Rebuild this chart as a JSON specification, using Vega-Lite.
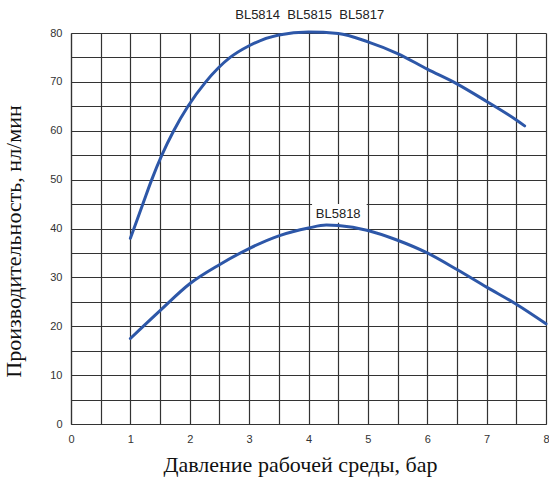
{
  "$schema": "https://vega.github.io/schema/vega-lite/v6.json",
  "width": 475,
  "height": 391,
  "autosize": {"type": "none"},
  "padding": {"left": 71, "top": 33, "right": 3, "bottom": 56},
  "background": "white",
  "config": {
    "view": {"stroke": null},
    "axis": {
      "grid": true, "gridColor": "#333333", "gridWidth": 1.2, "gridOpacity": 1,
      "domain": true, "domainColor": "#333333", "domainWidth": 1.2,
      "ticks": false, "labelPadding": 9, "labelFont": "Liberation Sans", "labelFontSize": 11,
      "labelColor": "#333333", "labelFlush": false, "labelOverlap": false,
      "titleFont": "Liberation Serif", "titleFontSize": 22, "titleFontWeight": "normal", "titleColor": "#111111"
    }
  },
  "datasets": {
    "curves": [
      {"series": "BL5814 BL5815 BL5817", "p": 1.0, "q": 38.0},
      {"series": "BL5814 BL5815 BL5817", "p": 1.21, "q": 45.0},
      {"series": "BL5814 BL5815 BL5817", "p": 1.36, "q": 50.0},
      {"series": "BL5814 BL5815 BL5817", "p": 1.53, "q": 55.0},
      {"series": "BL5814 BL5815 BL5817", "p": 1.73, "q": 60.0},
      {"series": "BL5814 BL5815 BL5817", "p": 1.97, "q": 65.0},
      {"series": "BL5814 BL5815 BL5817", "p": 2.27, "q": 70.0},
      {"series": "BL5814 BL5815 BL5817", "p": 2.68, "q": 75.0},
      {"series": "BL5814 BL5815 BL5817", "p": 3.0, "q": 77.4},
      {"series": "BL5814 BL5815 BL5817", "p": 3.5, "q": 79.6},
      {"series": "BL5814 BL5815 BL5817", "p": 4.0, "q": 80.2},
      {"series": "BL5814 BL5815 BL5817", "p": 4.5, "q": 79.9},
      {"series": "BL5814 BL5815 BL5817", "p": 5.0, "q": 78.2},
      {"series": "BL5814 BL5815 BL5817", "p": 5.5, "q": 75.8},
      {"series": "BL5814 BL5815 BL5817", "p": 6.0, "q": 72.6},
      {"series": "BL5814 BL5815 BL5817", "p": 6.5, "q": 69.6},
      {"series": "BL5814 BL5815 BL5817", "p": 7.0, "q": 66.0},
      {"series": "BL5814 BL5815 BL5817", "p": 7.5, "q": 62.2},
      {"series": "BL5814 BL5815 BL5817", "p": 7.64, "q": 61.0},
      {"series": "BL5818", "p": 1.0, "q": 17.5},
      {"series": "BL5818", "p": 1.5, "q": 23.2},
      {"series": "BL5818", "p": 2.0, "q": 28.7},
      {"series": "BL5818", "p": 2.5, "q": 32.6},
      {"series": "BL5818", "p": 3.0, "q": 35.9},
      {"series": "BL5818", "p": 3.5, "q": 38.5},
      {"series": "BL5818", "p": 4.0, "q": 40.1},
      {"series": "BL5818", "p": 4.3, "q": 40.7},
      {"series": "BL5818", "p": 4.5, "q": 40.6},
      {"series": "BL5818", "p": 5.0, "q": 39.6},
      {"series": "BL5818", "p": 5.5, "q": 37.6},
      {"series": "BL5818", "p": 6.0, "q": 35.0},
      {"series": "BL5818", "p": 6.5, "q": 31.6},
      {"series": "BL5818", "p": 7.0, "q": 28.0},
      {"series": "BL5818", "p": 7.5, "q": 24.5},
      {"series": "BL5818", "p": 8.0, "q": 20.5}
    ],
    "labels": [
      {"text": "BL5814\u00a0\u00a0BL5815\u00a0\u00a0BL5817", "p": 4.02, "q": 83.7, "box": false},
      {"text": "BL5818", "p": 4.5, "q": 42.9, "box": true, "p0": 4.06, "p1": 4.98, "q0": 41.2, "q1": 45.0}
    ]
  },
  "layer": [
    {
      "data": {"name": "curves"},
      "mark": {"type": "line", "interpolate": "monotone", "color": "#2d57a8", "strokeWidth": 3, "strokeCap": "round"},
      "encoding": {
        "x": {
          "field": "p", "type": "quantitative",
          "scale": {"domain": [0, 8], "nice": false, "zero": false},
          "axis": {
            "values": [0, 0.5, 1, 1.5, 2, 2.5, 3, 3.5, 4, 4.5, 5, 5.5, 6, 6.5, 7, 7.5, 8],
            "labelExpr": "datum.value % 1 == 0 ? format(datum.value, 'd') : ''",
            "title": "Давление рабочей среды, бар",
            "titleY": 47, "titleX": 229, "titleBaseline": "alphabetic"
          }
        },
        "y": {
          "field": "q", "type": "quantitative",
          "scale": {"domain": [0, 80], "nice": false},
          "axis": {
            "values": [0, 5, 10, 15, 20, 25, 30, 35, 40, 45, 50, 55, 60, 65, 70, 75, 80],
            "labelExpr": "datum.value % 10 == 0 ? format(datum.value, 'd') : ''",
            "title": "Производительность, нл/мин",
            "titleX": -46, "titleY": 208
          }
        },
        "detail": {"field": "series"}
      }
    },
    {
      "data": {"name": "labels"},
      "transform": [{"filter": "datum.box"}],
      "mark": {"type": "rect", "color": "white"},
      "encoding": {
        "x": {
          "field": "p0", "type": "quantitative",
          "axis": {
            "values": [0, 0.5, 1, 1.5, 2, 2.5, 3, 3.5, 4, 4.5, 5, 5.5, 6, 6.5, 7, 7.5, 8],
            "labelExpr": "datum.value % 1 == 0 ? format(datum.value, 'd') : ''",
            "title": "Давление рабочей среды, бар",
            "titleY": 47, "titleX": 229, "titleBaseline": "alphabetic"
          }
        },
        "x2": {"field": "p1"},
        "y": {
          "field": "q0", "type": "quantitative",
          "axis": {
            "values": [0, 5, 10, 15, 20, 25, 30, 35, 40, 45, 50, 55, 60, 65, 70, 75, 80],
            "labelExpr": "datum.value % 10 == 0 ? format(datum.value, 'd') : ''",
            "title": "Производительность, нл/мин",
            "titleX": -46, "titleY": 208
          }
        },
        "y2": {"field": "q1"}
      }
    },
    {
      "data": {"name": "labels"},
      "mark": {"type": "text", "font": "Liberation Sans", "fontSize": 13, "color": "#222222", "align": "center", "baseline": "middle"},
      "encoding": {
        "x": {
          "field": "p", "type": "quantitative",
          "axis": {
            "values": [0, 0.5, 1, 1.5, 2, 2.5, 3, 3.5, 4, 4.5, 5, 5.5, 6, 6.5, 7, 7.5, 8],
            "labelExpr": "datum.value % 1 == 0 ? format(datum.value, 'd') : ''",
            "title": "Давление рабочей среды, бар",
            "titleY": 47, "titleX": 229, "titleBaseline": "alphabetic"
          }
        },
        "y": {
          "field": "q", "type": "quantitative",
          "axis": {
            "values": [0, 5, 10, 15, 20, 25, 30, 35, 40, 45, 50, 55, 60, 65, 70, 75, 80],
            "labelExpr": "datum.value % 10 == 0 ? format(datum.value, 'd') : ''",
            "title": "Производительность, нл/мин",
            "titleX": -46, "titleY": 208
          }
        },
        "text": {"field": "text"}
      }
    }
  ]
}
